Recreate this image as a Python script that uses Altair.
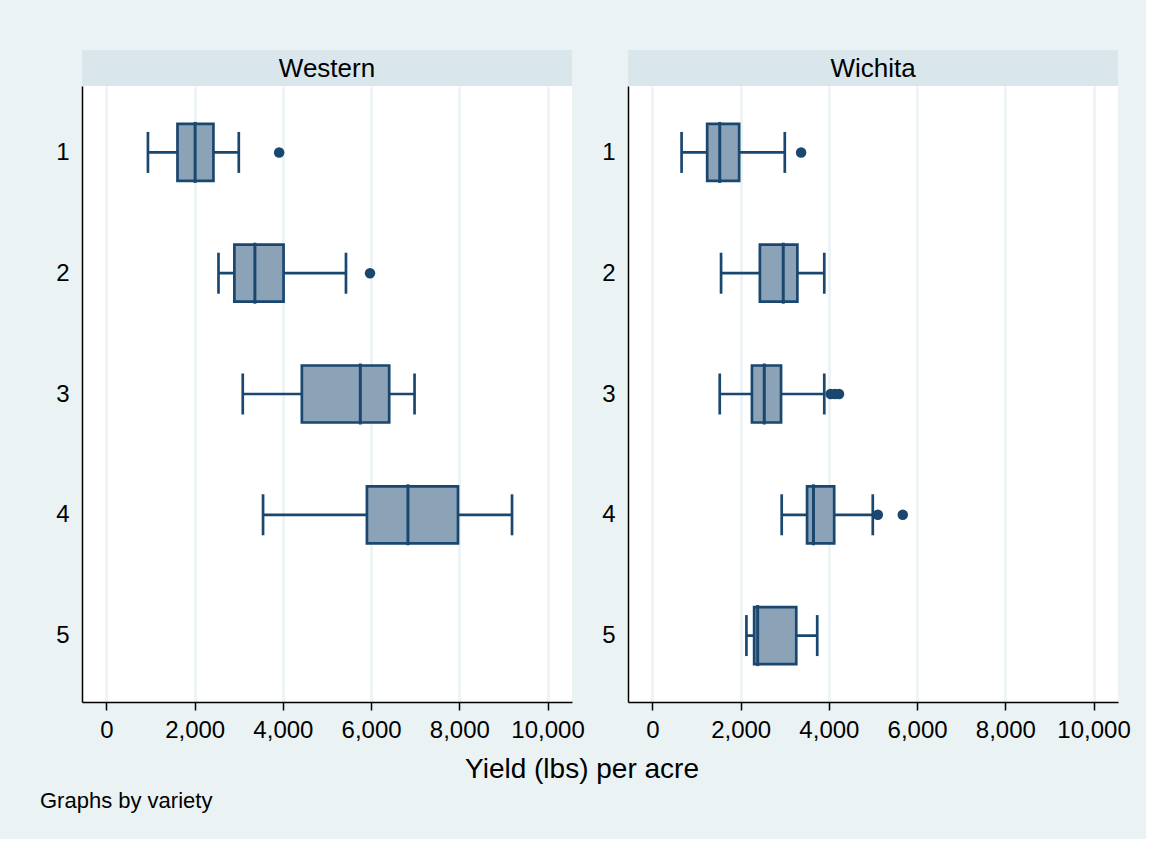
import altair as alt
import pandas as pd

# Box-plot summaries of yield (lbs per acre) by group, for each variety
variety = ["Western"] * 4 + ["Wichita"] * 5
group = [1, 2, 3, 4, 1, 2, 3, 4, 5]
lower = [940, 2540, 3090, 3550, 660, 1555, 1525, 2930, 2130]
q1 = [1610, 2900, 4430, 5905, 1240, 2435, 2255, 3505, 2305]
median = [2010, 3365, 5755, 6835, 1525, 2965, 2535, 3650, 2385]
q3 = [2425, 4015, 6410, 7970, 1965, 3285, 2915, 4120, 3260]
upper = [3000, 5430, 6985, 9195, 3000, 3895, 3895, 4995, 3735]

# Points beyond the whiskers
out_variety = ["Western", "Western", "Wichita", "Wichita", "Wichita", "Wichita", "Wichita", "Wichita"]
out_group = [1, 2, 1, 3, 3, 3, 4, 4]
out_value = [3915, 5975, 3370, 4040, 4140, 4230, 5110, 5675]

x_ticks = [0, 2000, 4000, 6000, 8000, 10000]
y_ticks = [1, 2, 3, 4, 5]
panels = ["Western", "Wichita"]

boxes = pd.DataFrame({"variety": variety, "group": group, "lower": lower,
                      "q1": q1, "median": median, "q3": q3, "upper": upper})
outs = pd.DataFrame({"variety": out_variety, "group": out_group, "value": out_value})

NAVY = "#1A476F"
FILL = "#8CA3B7"
BG = "#EAF2F3"
STRIP = "#D9E6EB"
FONT = "Liberation Sans"
PW, PH = 490, 616

x_scale = alt.Scale(domain=[-555, 10555], nice=False, zero=False, padding=0)
y_scale = alt.Scale(domain=[0.45, 5.55], reverse=True, nice=False, zero=False,
                    padding=0)

x_axis = alt.Axis(values=x_ticks, format=",.0f", title=None, labelFontSize=24,
                  labelFont=FONT, labelColor="black", tickColor="black",
                  tickSize=8, tickWidth=1.5, domainColor="black", domainWidth=1.5,
                  labelPadding=8, grid=True, gridColor=BG, gridWidth=2.5,
                  labelFlush=False)
y_axis = alt.Axis(values=y_ticks, format="d", title=None, labelFontSize=24,
                  labelFont=FONT, labelColor="black", ticks=False, labelPadding=13,
                  domainColor="black", domainWidth=1.5, grid=False)


def plot(name):
    b = alt.Chart(boxes).transform_filter(alt.datum.variety == name)
    o = alt.Chart(outs).transform_filter(alt.datum.variety == name)
    y = alt.Y("group:Q", scale=y_scale, axis=y_axis)

    whisker = b.mark_rule(color=NAVY, strokeWidth=2.7).encode(
        x=alt.X("lower:Q", scale=x_scale, axis=x_axis), x2="upper:Q", y=y)
    cap_lo = b.mark_tick(orient="vertical", color=NAVY, size=41, thickness=2.7,
                         opacity=1).encode(x="lower:Q", y="group:Q")
    cap_hi = b.mark_tick(orient="vertical", color=NAVY, size=41, thickness=2.7,
                         opacity=1).encode(x="upper:Q", y="group:Q")
    box = b.mark_bar(size=57, fill=FILL, stroke=NAVY, strokeWidth=2.7,
                     opacity=1).encode(x="q1:Q", x2="q3:Q", y="group:Q")
    med = b.mark_tick(orient="vertical", color=NAVY, size=61, thickness=3,
                      opacity=1).encode(x="median:Q", y="group:Q")
    dots = o.mark_circle(size=110, color=NAVY, opacity=1).encode(
        x="value:Q", y="group:Q")

    return alt.layer(whisker, box, cap_lo, cap_hi, med, dots).properties(
        width=PW, height=PH, view=alt.ViewBackground(fill="white", stroke=None))


def header(name):
    return alt.Chart(pd.DataFrame({"label": [name]})).mark_text(
        font=FONT, fontSize=26, color="black", align="center", baseline="middle"
    ).encode(text="label:N", x=alt.value(PW / 2), y=alt.value(19)).properties(
        width=PW, height=36, view=alt.ViewBackground(fill=STRIP, stroke=None))


xtitle = alt.Chart(pd.DataFrame({"t": ["Yield (lbs) per acre"]})).mark_text(
    font=FONT, fontSize=28, color="black", align="center", baseline="middle"
).encode(text="t:N", x=alt.value(500), y=alt.value(68))
note = alt.Chart(pd.DataFrame({"t": ["Graphs by variety"]})).mark_text(
    font=FONT, fontSize=22, color="black", align="left", baseline="middle"
).encode(text="t:N", x=alt.value(-42), y=alt.value(99))
footer = alt.layer(xtitle, note).properties(
    width=PW, height=128, view=alt.ViewBackground(stroke=None))

chart = alt.concat(
    header(panels[0]), header(panels[1]),
    plot(panels[0]), plot(panels[1]),
    footer,
    columns=2,
    spacing={"row": 0, "column": 56},
    bounds="flush",
).properties(
    background=BG,
    padding={"left": 40, "top": 50, "right": 15, "bottom": 9},
).configure_view(stroke=None)

chart.save("out.html", embed_options={"renderer": "svg", "actions": False})
